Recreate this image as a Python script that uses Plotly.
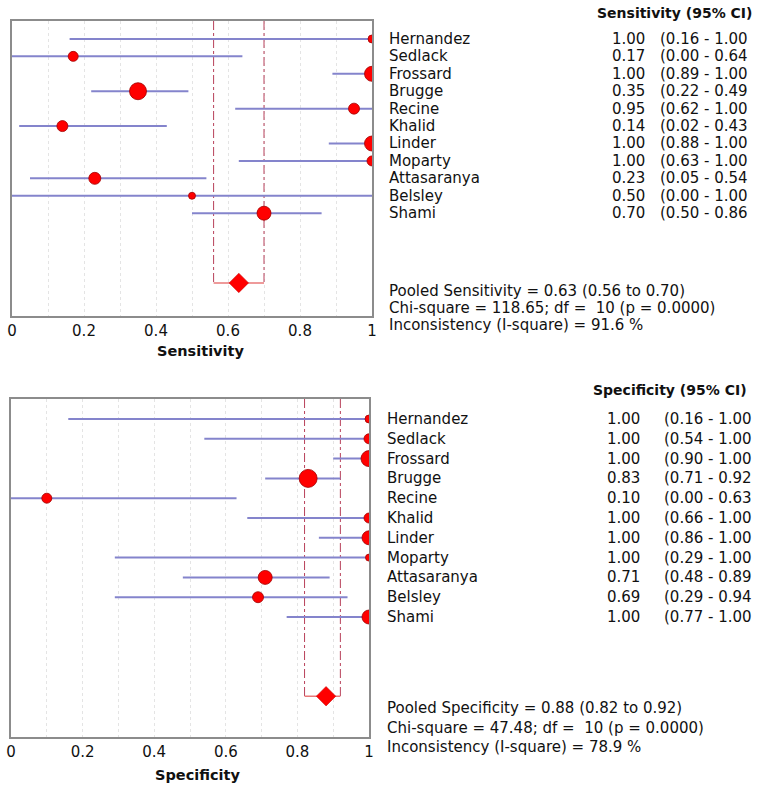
import plotly.graph_objects as go

studies = ["Hernandez", "Sedlack", "Frossard", "Brugge", "Recine", "Khalid",
           "Linder", "Moparty", "Attasaranya", "Belsley", "Shami"]

sens = [1.00, 0.17, 1.00, 0.35, 0.95, 0.14, 1.00, 1.00, 0.23, 0.50, 0.70]
sens_lo = [0.16, 0.00, 0.89, 0.22, 0.62, 0.02, 0.88, 0.63, 0.05, 0.00, 0.50]
sens_hi = [1.00, 0.64, 1.00, 0.49, 1.00, 0.43, 1.00, 1.00, 0.54, 1.00, 0.86]
sens_size = [8, 10, 15, 17, 11, 11, 15, 10, 12, 7, 14]

spec = [1.00, 1.00, 1.00, 0.83, 0.10, 1.00, 1.00, 1.00, 0.71, 0.69, 1.00]
spec_lo = [0.16, 0.54, 0.90, 0.71, 0.00, 0.66, 0.86, 0.29, 0.48, 0.29, 0.77]
spec_hi = [1.00, 1.00, 1.00, 0.92, 0.63, 1.00, 1.00, 1.00, 0.89, 0.94, 1.00]
spec_size = [8, 10, 16, 18, 10, 10, 14, 7, 14, 11, 14]

pooled_sens = [0.63, 0.56, 0.70]
pooled_spec = [0.88, 0.82, 0.92]

sens_stats = ["Pooled Sensitivity = 0.63 (0.56 to 0.70)",
              "Chi-square = 118.65; df =  10 (p = 0.0000)",
              "Inconsistency (I-square) = 91.6 %"]
spec_stats = ["Pooled Specificity = 0.88 (0.82 to 0.92)",
              "Chi-square = 47.48; df =  10 (p = 0.0000)",
              "Inconsistency (I-square) = 78.9 %"]

tick_vals = [0, 0.2, 0.4, 0.6, 0.8, 1]
tick_text = ["0", "0.2", "0.4", "0.6", "0.8", "1"]

W, H = 762, 793
FONT = "DejaVu Sans"
POOL_ROW = 14

rows = list(range(len(studies)))

panels = [
    dict(vals=sens, lo=sens_lo, hi=sens_hi, size=sens_size, pooled=pooled_sens,
         stats=sens_stats, title="Sensitivity", header="Sensitivity (95% CI)",
         xa="x", ya="y", px=(12, 372), py=(21, 316), yr=(15.9, -1.03),
         name_x=387, val_x=647, ci_x=658, head_x=595, head_y=13,
         stat_y=[290.5, 308, 325.5], title_x=200, title_y=351),
    dict(vals=spec, lo=spec_lo, hi=spec_hi, size=spec_size, pooled=pooled_spec,
         stats=spec_stats, title="Specificity", header="Specificity (95% CI)",
         xa="x2", ya="y2", px=(11, 369), py=(399, 737), yr=(16.06, -1.01),
         name_x=385, val_x=642, ci_x=662, head_x=591, head_y=390,
         stat_y=[708, 728, 747], title_x=197, title_y=775),
]

fig = go.Figure()
annotations = []

for p in panels:
    ytop = p["yr"][1]
    est, plo, phi = p["pooled"]
    # pooled CI vertical dash-dot lines
    fig.add_trace(go.Scatter(
        x=[plo, plo, None, phi, phi], y=[ytop, POOL_ROW, None, ytop, POOL_ROW],
        mode="lines", line=dict(color="#b8405a", width=1, dash="dashdot"),
        xaxis=p["xa"], yaxis=p["ya"], hoverinfo="skip"))
    fig.add_trace(go.Scatter(
        x=[plo, phi], y=[POOL_ROW, POOL_ROW], mode="lines",
        line=dict(color="#e87878", width=1.5),
        xaxis=p["xa"], yaxis=p["ya"], hoverinfo="skip"))
    # study CIs
    fig.add_trace(go.Scatter(
        x=p["vals"], y=rows, mode="markers",
        marker=dict(size=p["size"], color="#ff0000", opacity=1,
                    line=dict(color="#a00000", width=0.8)),
        error_x=dict(type="data", symmetric=False,
                     array=[h - v for h, v in zip(p["hi"], p["vals"])],
                     arrayminus=[v - l for v, l in zip(p["vals"], p["lo"])],
                     color="#8484cc", thickness=2, width=0),
        xaxis=p["xa"], yaxis=p["ya"]))
    # pooled diamond
    fig.add_trace(go.Scatter(
        x=[est], y=[POOL_ROW], mode="markers",
        marker=dict(symbol="diamond", size=15, color="#ff0000", opacity=1,
                    line=dict(color="#c00000", width=0.5)),
        xaxis=p["xa"], yaxis=p["ya"]))

    yref = p["ya"]
    for i, s in enumerate(studies):
        annotations.append(dict(x=p["name_x"] / W, xref="paper", y=i, yref=yref,
                                text=s, showarrow=False, xanchor="left",
                                yanchor="middle", font=dict(size=15, family=FONT, color="#111")))
        annotations.append(dict(x=p["val_x"] / W, xref="paper", y=i, yref=yref,
                                text=f"{p['vals'][i]:.2f}", showarrow=False, xanchor="right",
                                yanchor="middle", font=dict(size=15, family=FONT, color="#111")))
        annotations.append(dict(x=p["ci_x"] / W, xref="paper", y=i, yref=yref,
                                text=f"({p['lo'][i]:.2f} - {p['hi'][i]:.2f}", showarrow=False,
                                xanchor="left", yanchor="middle",
                                font=dict(size=15, family=FONT, color="#111")))
    annotations.append(dict(x=p["head_x"] / W, xref="paper", y=1 - p["head_y"] / H, yref="paper",
                            text=f"<b>{p['header']}</b>", showarrow=False, xanchor="left",
                            yanchor="middle", font=dict(size=14, family=FONT, color="#111")))
    for t, yy in zip(p["stats"], p["stat_y"]):
        annotations.append(dict(x=p["name_x"] / W, xref="paper", y=1 - yy / H, yref="paper",
                                text=t, showarrow=False, xanchor="left", yanchor="middle",
                                font=dict(size=15, family=FONT, color="#111")))
    annotations.append(dict(x=p["title_x"] / W, xref="paper", y=1 - p["title_y"] / H, yref="paper",
                            text=f"<b>{p['title']}</b>", showarrow=False, xanchor="center",
                            yanchor="middle", font=dict(size=14.5, family=FONT, color="#111")))

def xaxis_cfg(px):
    return dict(domain=[px[0] / W, px[1] / W], range=[0, 1], tickvals=tick_vals,
                ticktext=tick_text, showline=True, mirror=True, linecolor="#8c8c8c",
                linewidth=1.5, ticks="", showgrid=True, gridcolor="#e4e4e4",
                griddash="dot", gridwidth=1, zeroline=False, automargin=False,
                minor=dict(dtick=0.1, showgrid=True, gridcolor="#e4e4e4", griddash="dot"),
                tickfont=dict(size=15, family=FONT, color="#111"), fixedrange=True)

def yaxis_cfg(py, yr):
    return dict(domain=[1 - py[1] / H, 1 - py[0] / H], range=list(yr), showline=True,
                mirror=True, linecolor="#8c8c8c", linewidth=1.5, showticklabels=False,
                ticks="", showgrid=False, zeroline=False, fixedrange=True, automargin=False)

fig.update_layout(
    width=W, height=H, margin=dict(l=0, r=0, t=0, b=0, autoexpand=False),
    paper_bgcolor="white", plot_bgcolor="white", showlegend=False,
    xaxis=dict(xaxis_cfg(panels[0]["px"]), anchor="y"),
    yaxis=dict(yaxis_cfg(panels[0]["py"], panels[0]["yr"]), anchor="x"),
    xaxis2=dict(xaxis_cfg(panels[1]["px"]), anchor="y2"),
    yaxis2=dict(yaxis_cfg(panels[1]["py"], panels[1]["yr"]), anchor="x2"),
    annotations=annotations,
)

fig.write_html("out.html", config={"displayModeBar": False},
               post_script="document.body.style.margin='0';document.body.style.overflow='hidden';")
